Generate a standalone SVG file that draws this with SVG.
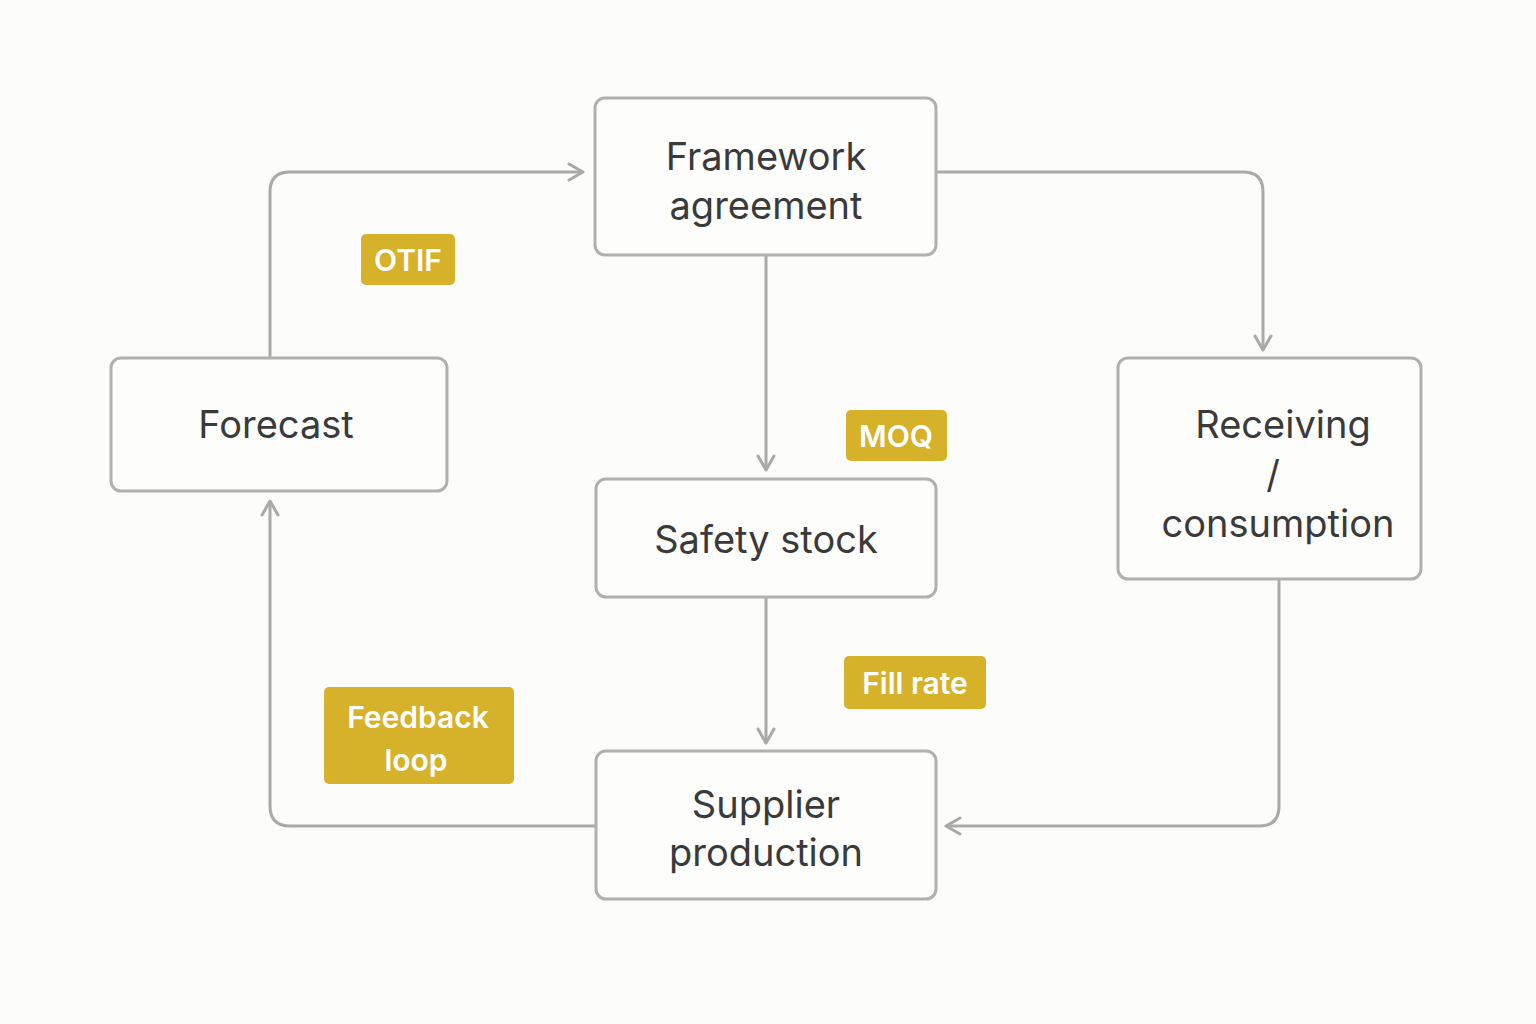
<svg xmlns="http://www.w3.org/2000/svg" width="1536" height="1024" viewBox="0 0 1536 1024">
<defs>
<marker id="ah" viewBox="0 0 20 20" refX="18" refY="10" markerWidth="20" markerHeight="20" markerUnits="userSpaceOnUse" orient="auto"><path d="M4,2 L18,10 L4,18" fill="none" stroke="#a9a9a9" stroke-width="3" stroke-linecap="round" stroke-linejoin="round"/></marker>
<style>
.n{fill:#fdfdfb;stroke:#b0b0b0;stroke-width:3}
.t{font-family:Inter,"Open Sans",sans-serif;font-size:38px;fill:#3a3a3a;text-anchor:middle}
.c{fill:none;stroke:#a9a9a9;stroke-width:3;marker-end:url(#ah)}
.b{fill:#d6b12a}
.bt{font-family:Inter,"Open Sans",sans-serif;font-size:30px;font-weight:600;fill:#fff;text-anchor:middle}
</style>
</defs>
<rect width="1536" height="1024" fill="#fcfcfa"/>
<g id="connectors">
<path class="c" d="M270,358 V192 Q270,172 290,172 H583"/>
<path class="c" d="M936,172 H1243 Q1263,172 1263,192 V350"/>
<path class="c" d="M766,255 V470"/>
<path class="c" d="M766,597 V743"/>
<path class="c" d="M1279,579 V806 Q1279,826 1259,826 H946"/>
<path class="c" d="M596,826 H290 Q270,826 270,806 V501"/>
</g>
<g id="framework"><rect class="n" x="595" y="98" width="341" height="157" rx="10"/><text class="t" x="766" y="170">Framework</text><text class="t" x="766" y="219">agreement</text></g>
<g id="forecast"><rect class="n" x="111" y="358" width="336" height="133" rx="10"/><text class="t" x="276" y="438">Forecast</text></g>
<g id="safety"><rect class="n" x="596" y="479" width="340" height="118" rx="10"/><text class="t" x="766" y="553">Safety stock</text></g>
<g id="receiving"><rect class="n" x="1118" y="358" width="303" height="221" rx="10"/><text class="t" x="1283" y="438">Receiving</text><text class="t" x="1273" y="488">/</text><text class="t" x="1278" y="537">consumption</text></g>
<g id="supplier"><rect class="n" x="596" y="751" width="340" height="148" rx="10"/><text class="t" x="766" y="818">Supplier</text><text class="t" x="766" y="866">production</text></g>
<g id="otif"><rect class="b" x="361" y="234" width="94" height="51" rx="5"/><text class="bt" x="408" y="271">OTIF</text></g>
<g id="moq"><rect class="b" x="846" y="410" width="101" height="51" rx="5"/><text class="bt" x="896" y="447">MOQ</text></g>
<g id="fillrate"><rect class="b" x="844" y="656" width="142" height="53" rx="5"/><text class="bt" x="915" y="694">Fill rate</text></g>
<g id="feedback"><rect class="b" x="324" y="687" width="190" height="97" rx="5"/><text class="bt" x="418" y="728">Feedback</text><text class="bt" x="416" y="771">loop</text></g>
</svg>
